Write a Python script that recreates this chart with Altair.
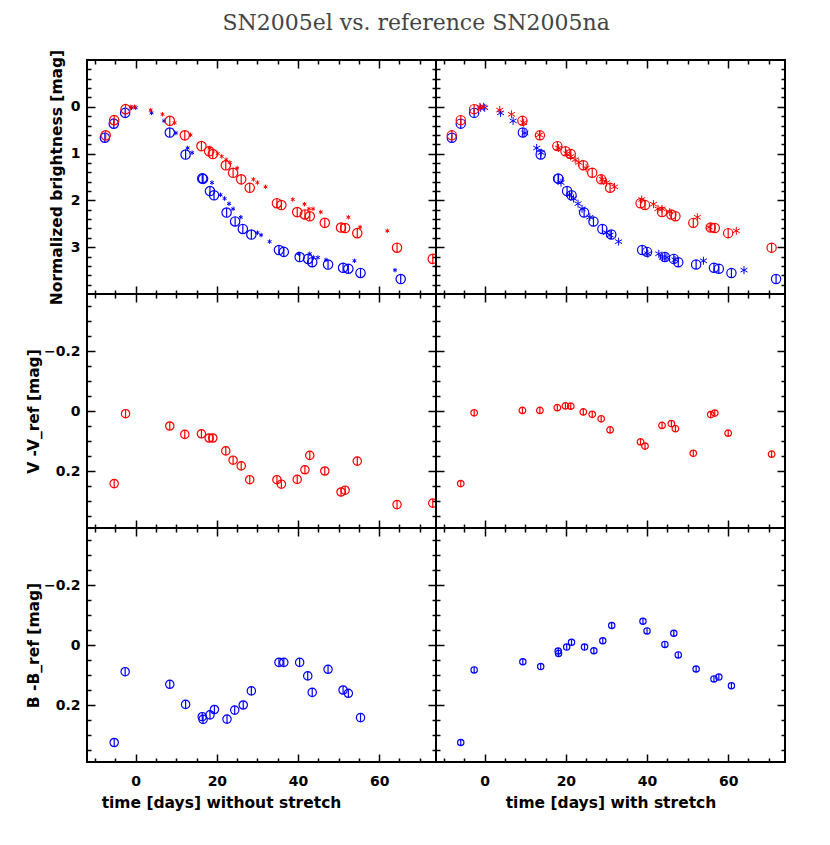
import altair as alt
import pandas as pd

TITLE = "SN2005el vs. reference SN2005na"

# ---------------- data ----------------
# SN2005el V band (red circles): epochs without / with stretch, normalized magnitude
t_V_nostretch = [-7.4, -5.3, -2.5, 8.4, 12.1, 16.2, 18.1, 19.0, 22.2, 24.0, 26.0, 28.1,
                 34.8, 35.9, 39.8, 41.7, 42.9, 46.6, 50.6, 51.6, 54.6, 64.4, 73.2]
t_V_stretch = [-8.1, -5.9, -2.6, 9.3, 13.6, 17.9, 19.9, 21.2, 24.3, 26.5, 28.7, 30.9,
               38.4, 39.5, 43.7, 46.0, 47.0, 51.4, 55.7, 56.7, 60.0, 70.7]
mag_V = [0.61, 0.285, 0.05, 0.30, 0.61, 0.84, 0.95, 1.01, 1.25, 1.41, 1.55, 1.73,
         2.06, 2.10, 2.25, 2.30, 2.34, 2.48, 2.58, 2.59, 2.70, 3.01, 3.25]

# SN2005el B band (blue circles)
t_B_nostretch = [-7.6, -5.4, -2.6, 8.4, 12.3, 16.4, 16.6, 18.3, 19.3, 22.4, 24.5, 26.4,
                 28.5, 35.3, 36.5, 40.4, 42.5, 43.5, 47.4, 51.1, 52.4, 55.4, 65.3]
t_B_stretch = [-8.1, -5.9, -2.6, 9.4, 13.8, 18.1, 18.2, 20.3, 21.4, 24.5, 26.8, 29.0,
               31.2, 38.8, 40.0, 44.4, 46.6, 47.7, 52.1, 56.5, 57.7, 60.8, 71.8]
mag_B = [0.66, 0.36, 0.13, 0.55, 1.02, 1.53, 1.54, 1.80, 1.89, 2.26, 2.45, 2.61,
         2.73, 3.06, 3.10, 3.21, 3.25, 3.32, 3.37, 3.44, 3.46, 3.55, 3.68]

# reference SN2005na (asterisks)
t_Vref = [-1.2, -0.3, 3.7, 6.6, 9.6, 13.5, 18.2, 20.2, 21.2, 22.3, 23.2, 25.0,
          29.0, 30.0, 32.0, 38.7, 41.6, 42.7, 43.7, 45.6, 52.4, 55.3, 62.0]
mag_Vref = [0.0, 0.0, 0.07, 0.16, 0.34, 0.60, 0.88, 1.00, 1.06, 1.13, 1.19, 1.31,
            1.55, 1.62, 1.71, 1.98, 2.08, 2.18, 2.18, 2.25, 2.36, 2.57, 2.65]
t_Bref = [-1.0, 0.0, 3.9, 7.0, 9.9, 12.8, 13.9, 18.8, 20.9, 21.9, 23.0, 24.0,
          25.9, 30.0, 30.9, 33.0, 40.2, 42.9, 43.8, 44.9, 46.9, 53.9, 63.9]
mag_Bref = [0.02, 0.02, 0.13, 0.30, 0.56, 0.88, 0.98, 1.62, 1.88, 1.96, 2.07, 2.18,
            2.36, 2.69, 2.74, 2.88, 3.14, 3.14, 3.22, 3.22, 3.27, 3.29, 3.49]

# V - V_ref
t_dV_nostretch = [-5.3, -2.5, 8.4, 12.1, 16.2, 18.1, 19.0, 22.2, 24.0, 26.0, 28.1,
                  34.8, 35.9, 39.8, 41.7, 42.9, 46.6, 50.6, 51.6, 54.6, 64.4, 73.2]
dV_nostretch = [0.242, 0.009, 0.050, 0.078, 0.076, 0.090, 0.090, 0.133, 0.164, 0.183, 0.229,
                0.229, 0.244, 0.228, 0.196, 0.148, 0.200, 0.270, 0.264, 0.167, 0.312, 0.307]
t_dV_stretch = [-5.9, -2.6, 9.3, 13.6, 17.9, 19.9, 21.2, 24.3, 26.5, 28.7, 30.9,
                38.4, 39.5, 43.7, 46.0, 47.0, 51.4, 55.7, 56.7, 60.0, 70.7]
dV_stretch = [0.242, 0.006, -0.002, -0.002, -0.011, -0.017, -0.016, 0.003, 0.011, 0.026, 0.063,
              0.103, 0.117, 0.048, 0.042, 0.059, 0.141, 0.012, 0.007, 0.074, 0.144]

# B - B_ref
t_dB_nostretch = [-5.3, -2.6, 8.4, 12.3, 16.4, 16.6, 18.3, 19.4, 22.5, 24.4, 26.5,
                  28.5, 35.3, 36.5, 40.4, 42.4, 43.5, 47.4, 51.1, 52.4, 55.4]
dB_nostretch = [0.325, 0.089, 0.131, 0.198, 0.239, 0.248, 0.233, 0.215, 0.247, 0.217, 0.200,
                0.153, 0.058, 0.058, 0.058, 0.103, 0.158, 0.081, 0.150, 0.161, 0.242]
t_dB_stretch = [-5.9, -2.6, 9.4, 13.8, 18.1, 18.2, 20.2, 21.4, 24.6, 26.9, 29.1,
                31.3, 39.0, 40.0, 44.4, 46.6, 47.7, 52.1, 56.5, 57.7, 60.8]
dB_stretch = [0.325, 0.083, 0.056, 0.072, 0.020, 0.028, 0.007, -0.009, 0.007, 0.019, -0.014,
              -0.065, -0.079, -0.047, -0.002, -0.039, 0.033, 0.080, 0.113, 0.107, 0.136]

# axis ticks
X_DOMAIN = [-12, 74]
X_TICKS = [-10, -5, 0, 5, 10, 15, 20, 25, 30, 35, 40, 45, 50, 55, 60, 65, 70]
Y_MAG_DOMAIN = [-1, 4]
Y_MAG_TICKS = [-0.8, -0.6, -0.4, -0.2, 0, 0.2, 0.4, 0.6, 0.8, 1, 1.2, 1.4, 1.6, 1.8, 2,
               2.2, 2.4, 2.6, 2.8, 3, 3.2, 3.4, 3.6, 3.8]
Y_DIFF_DOMAIN = [-0.39, 0.39]
Y_DIFF_TICKS = [-0.35, -0.3, -0.25, -0.2, -0.15, -0.1, -0.05, 0, 0.05, 0.1, 0.15,
                0.2, 0.25, 0.3, 0.35]

RED = "#ff0000"
BLUE = "#0000ff"
CIRCLE = "M-1,0A1,1 0 1,0 1,0A1,1 0 1,0 -1,0M0,-1L0,1"
STAR = "M0,-1L0,1M-0.87,-0.5L0.87,0.5M-0.87,0.5L0.87,-0.5"

W, H = 349, 234
FONT = "DejaVu Sans"

X_MAJOR = "datum.value % 20 == 0"
X_LABEL = "datum.value % 20 == 0 ? format(datum.value, 'd') : ''"
MAG_MAJOR = "abs(datum.value - round(datum.value)) < 0.01"
MAG_LABEL = "abs(datum.value - round(datum.value)) < 0.01 ? format(datum.value, 'd') : ''"
DIFF_MAJOR = "abs(datum.value / 0.2 - round(datum.value / 0.2)) < 0.01"
DIFF_LABEL = ("abs(datum.value / 0.2 - round(datum.value / 0.2)) < 0.01 ? "
              "(abs(datum.value) < 0.001 ? '0' : format(datum.value, '.1f')) : ''")


def make_axis(orient, values, major, label_expr=None, pad=None, title_pad=None, title_x=None):
    kw = dict(orient=orient, values=values, domain=False, grid=False,
              tickSize={"expr": f"({major}) ? -8 : -4"},
              tickColor="black", tickWidth=1.5)
    if label_expr is None:
        kw["labels"] = False
    else:
        kw.update(labels=True, labelExpr=label_expr, labelPadding=pad,
                  labelOverlap=False, labelFlush=False,
                  labelFont=FONT, labelFontWeight="bold", labelFontSize=14,
                  labelColor="black")
    if title_pad is not None:
        kw.update(titlePadding=title_pad, titleFont=FONT, titleFontWeight="bold",
                  titleColor="black", titleFontSize=15.5)
    if title_x is not None:
        kw["titleX"] = title_x
    return alt.Axis(**kw)


def panel(series, ydom, yticks, ymajor, ylabel, ytitle, left, bottom, xtitle, ytitle_pad, xtitle_x):
    xs = alt.Scale(domain=X_DOMAIN, nice=False, zero=False)
    ys = alt.Scale(domain=ydom, reverse=True, nice=False, zero=False)
    layers = []
    for i, (t, v, color, shape, size, sw) in enumerate(series):
        df = pd.DataFrame({"t": t, "v": v})
        if i == 0:
            xa = make_axis("bottom", X_TICKS, X_MAJOR,
                           X_LABEL if bottom else None, 20,
                           3 if bottom else None, xtitle_x if bottom else None)
            ya = make_axis("left", yticks, ymajor,
                           ylabel if left else None, 15, ytitle_pad if left else None)
            xenc = alt.X("t:Q", scale=xs, axis=xa, title=xtitle if bottom else None)
            yenc = alt.Y("v:Q", scale=ys, axis=ya, title=ytitle if left else None)
        else:
            xenc = alt.X("t:Q", scale=xs, axis=None)
            yenc = alt.Y("v:Q", scale=ys, axis=None)
        layers.append(
            alt.Chart(df).mark_point(shape=shape, filled=False, color=color, size=size,
                                     strokeWidth=sw, opacity=1, clip=True)
            .encode(x=xenc, y=yenc)
        )
    # mirrored (top / right) inward ticks
    t0, v0 = series[0][0], series[0][1]
    mirror = alt.Chart(pd.DataFrame({"t": t0, "v": v0})).mark_point(opacity=0).encode(
        x=alt.X("t:Q", scale=xs, title=None, axis=make_axis("top", X_TICKS, X_MAJOR)),
        y=alt.Y("v:Q", scale=ys, title=None, axis=make_axis("right", yticks, ymajor)),
    )
    layers.append(mirror)
    return alt.layer(*layers).resolve_axis(x="independent", y="independent").properties(
        width=W, height=H)


def top_panel(tV, mV, tB, mB, left, star_size, circ_size):
    series = [
        (t_Bref, mag_Bref, BLUE, STAR, star_size, 1.0),
        (t_Vref, mag_Vref, RED, STAR, star_size, 1.0),
        (tB, mB, BLUE, CIRCLE, circ_size, 1.2),
        (tV, mV, RED, CIRCLE, circ_size, 1.2),
    ]
    return panel(series, Y_MAG_DOMAIN, Y_MAG_TICKS, MAG_MAJOR, MAG_LABEL,
                 "Normalized brightness [mag]", left, False, None, 6, None)


top_left = top_panel(t_V_nostretch, mag_V, t_B_nostretch, mag_B, True, 20, 88)
top_right = top_panel(t_V_stretch, mag_V[:len(t_V_stretch)], t_B_stretch, mag_B, False, 64, 86)
mid_left = panel([(t_dV_nostretch, dV_nostretch, RED, CIRCLE, 70, 1.2)], Y_DIFF_DOMAIN,
                 Y_DIFF_TICKS, DIFF_MAJOR, DIFF_LABEL, "V -V_ref [mag]", True, False, None, 2, None)
mid_right = panel([(t_dV_stretch, dV_stretch, RED, CIRCLE, 44, 1.2)], Y_DIFF_DOMAIN,
                  Y_DIFF_TICKS, DIFF_MAJOR, DIFF_LABEL, None, False, False, None, 2, None)
bot_left = panel([(t_dB_nostretch, dB_nostretch, BLUE, CIRCLE, 70, 1.2)], Y_DIFF_DOMAIN,
                 Y_DIFF_TICKS, DIFF_MAJOR, DIFF_LABEL, "B -B_ref [mag]", True, True,
                 "time [days] without stretch", 2, 134)
bot_right = panel([(t_dB_stretch, dB_stretch, BLUE, CIRCLE, 40, 1.2)], Y_DIFF_DOMAIN,
                  Y_DIFF_TICKS, DIFF_MAJOR, DIFF_LABEL, None, False, True,
                  "time [days] with stretch", 2, None)

chart = alt.concat(top_left, top_right, mid_left, mid_right, bot_left, bot_right,
                   columns=2, spacing=0, bounds="flush").properties(
    title=alt.TitleParams(TITLE, font="DejaVu Serif", fontSize=22, fontWeight="normal",
                          color="#444444", anchor="middle", offset=13, dx=10),
    padding={"left": 17, "top": 4, "right": 10, "bottom": 5},
).configure_view(stroke="black", strokeWidth=2).configure_axis(
    labelFont=FONT, titleFont=FONT
)

chart.save("out.html", embed_options={"renderer": "svg", "actions": False})
